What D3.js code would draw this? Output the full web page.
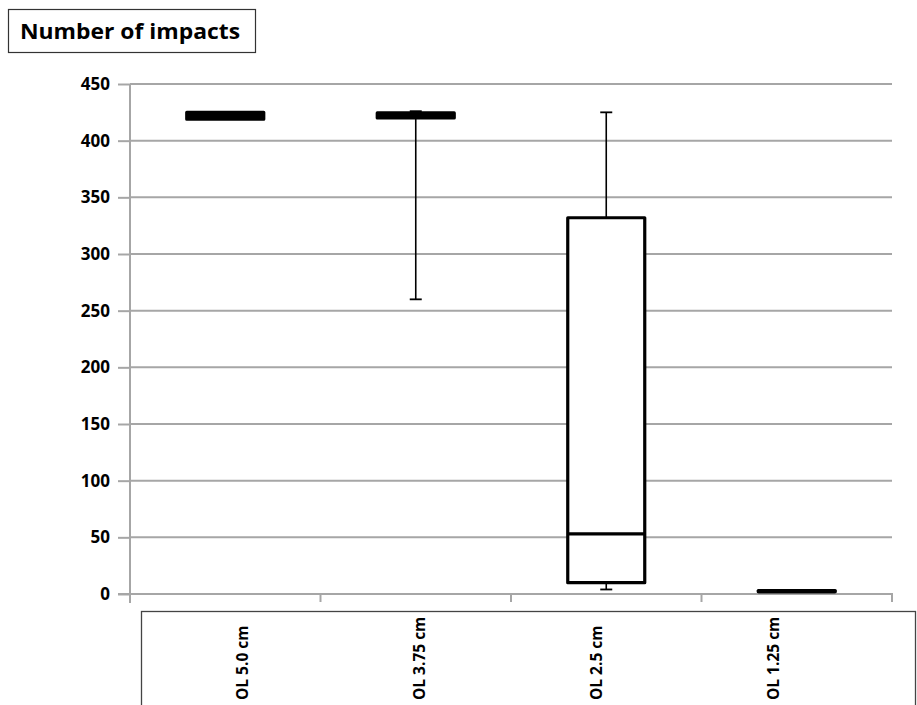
<!DOCTYPE html>
<html><head><meta charset="utf-8">
<script src="https://cdn.jsdelivr.net/npm/d3@7"></script>
<style>
body{margin:0;background:#fff;}
svg{display:block;font-family:"Open Sans",Lato,sans-serif;}
</style></head>
<body>
<svg id="c" width="917" height="705"></svg>
<script>
const categories = ["OL 5.0 cm","OL 3.75 cm","OL 2.5 cm","OL 1.25 cm"];
const mins    = [419, 260, 4, 2];
const q1s     = [419, 420, 10, 2];
const medians = [422, 422, 53, 2];
const q3s     = [425, 424.5, 332, 3];
const maxs    = [425, 426, 425, 3];
const yTicks  = [0,50,100,150,200,250,300,350,400,450];
const title = "Number of impacts";

const svg = d3.select("#c");
const x0 = 130, x1 = 892, yTop = 84, yBot = 594;
const y = d3.scaleLinear().domain([0,450]).range([yBot,yTop]);
const x = d3.scaleBand().domain(categories).range([x0,x1]);
const xl = d3.scaleBand().domain(categories).range([153,862]);
const grid = "#a6a6a6";
const font = "'Open Sans',Lato,sans-serif";

// title box
svg.append("rect").attr("x",8.5).attr("y",9.5).attr("width",247).attr("height",43)
  .attr("fill","#fff").attr("stroke","#333").attr("stroke-width",1.2);
svg.append("text").attr("x",20).attr("y",39).attr("font-size",22).attr("font-weight","bold")
  .attr("fill","#000").attr("textLength",220).attr("lengthAdjust","spacingAndGlyphs").text(title);

// gridlines
svg.append("g").selectAll("line").data(yTicks.slice(1)).join("line")
  .attr("x1",x0).attr("x2",x1).attr("y1",d=>y(d)).attr("y2",d=>y(d))
  .attr("stroke",grid).attr("stroke-width",2);

// y axis
const ya = svg.append("g").attr("transform",`translate(${x0},0)`)
  .call(d3.axisLeft(y).tickValues(yTicks).tickSize(12).tickPadding(8));
ya.select(".domain").remove();
ya.selectAll(".tick line").attr("stroke",grid).attr("stroke-width",2);
ya.selectAll(".tick text").attr("font-size",17).attr("font-weight","bold").attr("fill","#000")
  .attr("font-family",font);
svg.append("line").attr("x1",x0).attr("x2",x0).attr("y1",yTop).attr("y2",yBot+9)
  .attr("stroke",grid).attr("stroke-width",2);

// x axis
svg.append("line").attr("x1",x0-12).attr("x2",x1+1).attr("y1",yBot).attr("y2",yBot)
  .attr("stroke",grid).attr("stroke-width",2);
svg.append("g").selectAll("line").data(categories.slice(1).concat(["__end"])).join("line")
  .attr("x1",(d,i)=>x0 + x.step()*(i+1)).attr("x2",(d,i)=>x0 + x.step()*(i+1))
  .attr("y1",yBot).attr("y2",yBot+8).attr("stroke",grid).attr("stroke-width",2);

// label box
svg.append("rect").attr("x",141.5).attr("y",611.5).attr("width",774).attr("height",110)
  .attr("fill","none").attr("stroke","#444").attr("stroke-width",1.3);
svg.append("g").selectAll("text").data(categories).join("text")
  .attr("transform",d=>`translate(${xl(d)+xl.bandwidth()/2+6},700) rotate(-90)`)
  .attr("text-anchor","start").attr("font-size",15.5).attr("font-weight","bold").attr("fill","#000")
  .text(d=>d);

// boxes
const bw = 77;
const g = svg.append("g");
categories.forEach((c,i)=>{
  const cx = x(c)+x.bandwidth()/2;
  if (maxs[i] > q3s[i]) {
    g.append("line").attr("x1",cx).attr("x2",cx).attr("y1",y(maxs[i])).attr("y2",y(q3s[i]))
      .attr("stroke","#000").attr("stroke-width",1.6);
    g.append("line").attr("x1",cx-6).attr("x2",cx+6).attr("y1",y(maxs[i])).attr("y2",y(maxs[i]))
      .attr("stroke","#000").attr("stroke-width",1.8);
  }
  if (mins[i] < q1s[i]) {
    g.append("line").attr("x1",cx).attr("x2",cx).attr("y1",y(q1s[i])).attr("y2",y(mins[i]))
      .attr("stroke","#000").attr("stroke-width",1.6);
    g.append("line").attr("x1",cx-6).attr("x2",cx+6).attr("y1",y(mins[i])).attr("y2",y(mins[i]))
      .attr("stroke","#000").attr("stroke-width",1.8);
  }
  const h = Math.max(0.5,y(q1s[i])-y(q3s[i]));
  g.append("rect").attr("x",cx-bw/2).attr("y",y(q3s[i])).attr("width",bw)
    .attr("height",h)
    .attr("fill", h < 9 ? "#000" : "#fff").attr("stroke","#000").attr("stroke-width",3.2)
    .attr("stroke-linejoin","round");
  g.append("line").attr("x1",cx-bw/2).attr("x2",cx+bw/2).attr("y1",y(medians[i])).attr("y2",y(medians[i]))
    .attr("stroke","#000").attr("stroke-width",3.2);
});
</script>
</body></html>
